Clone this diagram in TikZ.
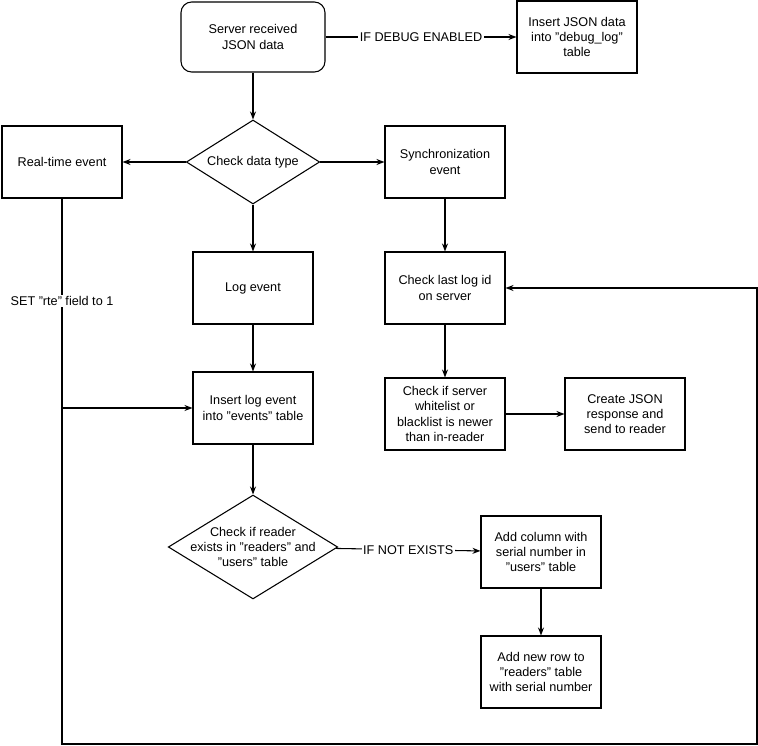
\documentclass[tikz,border=0pt]{standalone}
\usepackage{fontspec}
\setmainfont{Liberation Sans}
\usetikzlibrary{arrows.meta, shapes.geometric}

\begin{document}
\begin{tikzpicture}[x=0.75pt, y=-0.75pt,
  font=\fontsize{9.5}{11.5}\selectfont,
  box/.style={draw, thick, minimum width=90pt, minimum height=54pt, align=center, inner sep=2pt},
  dia/.style={draw, thick, diamond, aspect=1.6, inner sep=1pt, align=center},
  arr/.style={thick, -{Stealth[length=6pt]}},
  lbl/.style={fill=white, inner sep=1pt}]
\useasboundingbox (0,0) rectangle (758,746);
\node[box, rounded corners=8pt, minimum width=108pt, minimum height=52.5pt] (srv) at (253,37) {Server received\\JSON data};
\node[box] (dbg) at (577,37) {Insert JSON data\\into "debug\_log"\\table};
\node[dia, minimum width=100pt, minimum height=63pt] (type) at (253,162) {Check data type};
\node[box] (rte) at (62,162) {Real-time event};
\node[box] (sync) at (445,162) {Synchronization\\event};
\node[box] (log) at (253,288) {Log event};
\node[box] (last) at (445,288) {Check last log id\\on server};
\node[box] (ins) at (253,408) {Insert log event\\into "events" table};
\node[box] (wl) at (445,414) {Check if server\\whitelist or\\blacklist is newer\\than in-reader};
\node[box] (resp) at (625,414) {Create JSON\\response and\\send to reader};
\node[dia, inner sep=-3pt, aspect=1.63] (rdr) at (253,547) {Check if reader\\exists in "readers" and\\"users" table};
\node[box] (col) at (541,552) {Add column with\\serial number in\\"users" table};
\node[box] (row) at (541,672) {Add new row to\\"readers" table\\with serial number};
\coordinate (j) at (62,408);
% connectors
\draw[arr] (srv) -- (type);
\draw[arr] (srv) -- node[lbl]{IF DEBUG ENABLED} (dbg);
\draw[arr] (type) -- (rte);
\draw[arr] (type) -- (sync);
\draw[arr] (type) -- (log);
\draw[arr] (sync) -- (last);
\draw[arr] (log) -- (ins);
\draw[arr] (last) -- (wl);
\draw[arr] (wl) -- (resp);
\draw[arr] (ins) -- (rdr);
\draw[arr] (rdr) -- node[lbl]{IF NOT EXISTS} (col);
\draw[arr] (col.south) -- (row.north);
\draw[arr] (rte) -- node[lbl, pos=0.49]{SET "rte" field to 1} (j) -- (ins);
\draw[arr] (j) -- (62,744) -- (757,744) -- (757,288) -- (last);
\end{tikzpicture}
\end{document}
